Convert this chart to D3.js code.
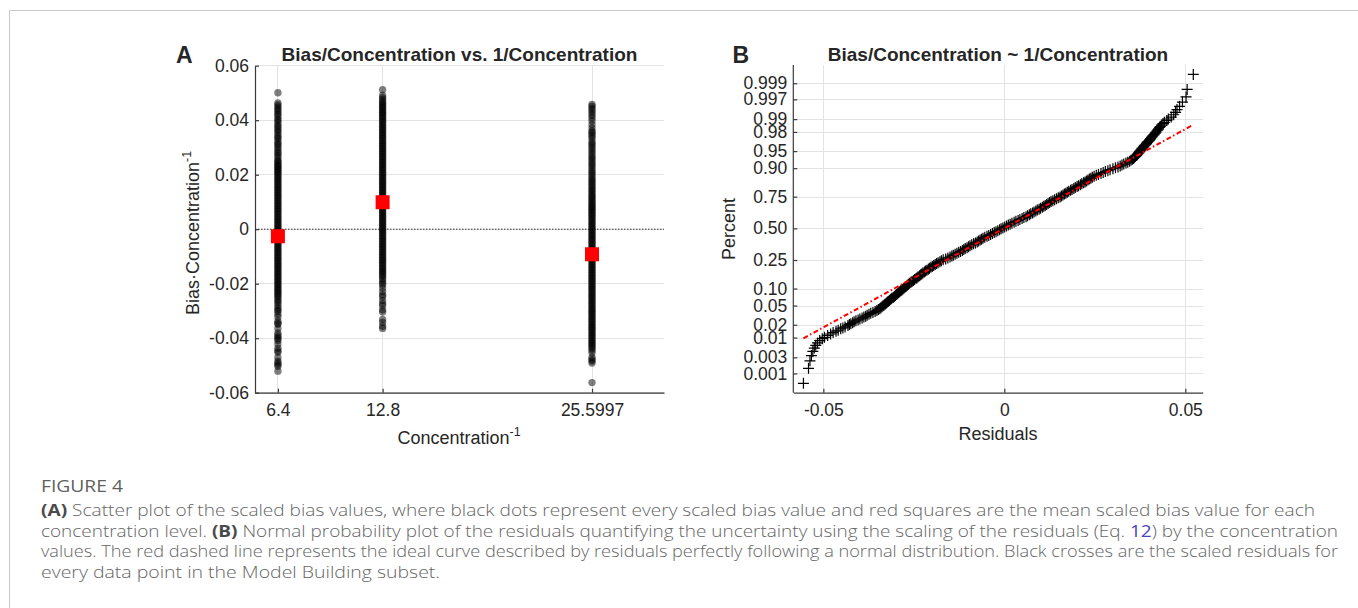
<!DOCTYPE html>
<html>
<head>
<meta charset="utf-8">
<title>Figure 4</title>
<style>
  body { margin: 0; overflow: hidden; background: #fff; }
  svg { display: block; }
  .plot text { font-family: "Liberation Sans", Arial, Helvetica, sans-serif; fill: #262626; }
  .tick text { font-size: 17.5px; }
  .domain, .tick line { stroke: #3a3a3a; stroke-width: 1.2px; }
  .grid { stroke: #e3e3e3; stroke-width: 1px; shape-rendering: crispEdges; }
  .title { font-size: 19px; font-weight: bold; }
  .panel-letter { font-size: 23px; font-weight: bold; }
  .axis-label { font-size: 18px; }
  .caption { font-family: "Open Sans", Lato, sans-serif; font-size: 16px; font-weight: 300; fill: #666; }
</style>
</head>
<body>
<svg id="figure" width="1358" height="608"></svg>
<script src="https://cdn.jsdelivr.net/npm/d3@7/dist/d3.min.js"></script>
<script>
// ---- panel A data: scaled bias (bias / concentration) at each 1/concentration level
var concLevels = [6.4, 12.8, 25.5997];
var concLabels = ['6.4', '12.8', '25.5997'];

var biasAt6_4 = [0.0501, 0.0463, 0.0456, 0.0449, 0.0441, 0.0436, 0.0427, 0.0421, 0.0414, 0.0404, 0.0399, 0.0391,
  0.0381, 0.0376, 0.0367, 0.0361, 0.0353, 0.0344, 0.0337, 0.0331, 0.0322, 0.0314, 0.0309, 0.0301, 0.0293, 0.0284,
  0.0279, 0.0271, 0.0263, 0.0254, 0.0249, 0.0244, 0.0238, 0.0233, 0.0229, 0.0224, 0.0219, 0.0214, 0.0209,
  0.0204, 0.0198, 0.0192, 0.0187, 0.0181, 0.0175, 0.0170, 0.0163, 0.0158, 0.0152, 0.0146, 0.0141, 0.0134, 0.0129,
  0.0123, 0.0117, 0.0112, 0.0105, 0.0100, 0.0094, 0.0088, 0.0083, 0.0076, 0.0071, 0.0065, 0.0059, 0.0054, 0.0047,
  0.0042, 0.0036, 0.0030, 0.0025, 0.0018, 0.0013, 0.0007, 0.0001, -0.0004, -0.0011, -0.0016, -0.0022, -0.0028,
  -0.0033, -0.0040, -0.0045, -0.0051, -0.0057, -0.0062, -0.0069, -0.0074, -0.0080, -0.0086, -0.0091, -0.0098,
  -0.0103, -0.0109, -0.0115, -0.0120, -0.0127, -0.0132, -0.0138, -0.0144, -0.0149, -0.0156, -0.0161, -0.0167,
  -0.0173, -0.0178, -0.0185, -0.0190, -0.0196, -0.0202, -0.0207, -0.0214, -0.0219, -0.0225, -0.0231, -0.0236,
  -0.0243, -0.0248, -0.0256, -0.0263, -0.0270, -0.0279, -0.0288, -0.0296, -0.0301, -0.0312, -0.0322, -0.0338,
  -0.0345, -0.0349, -0.0364, -0.0381, -0.0389, -0.0396, -0.0402, -0.0408, -0.0421, -0.0437, -0.0446, -0.0452,
  -0.0471, -0.0484, -0.0491, -0.0497, -0.0503, -0.0521];

var biasAt12_8 = [0.0512, 0.0491, 0.0483, 0.0476, 0.0468, 0.0463, 0.0457, 0.0451, 0.0446, 0.0440, 0.0434, 0.0429,
  0.0424, 0.0418, 0.0412, 0.0407, 0.0401, 0.0395, 0.0390, 0.0383, 0.0378, 0.0372, 0.0366, 0.0361, 0.0354, 0.0349,
  0.0343, 0.0337, 0.0332, 0.0325, 0.0320, 0.0314, 0.0308, 0.0303, 0.0296, 0.0291, 0.0285, 0.0279, 0.0274, 0.0267,
  0.0262, 0.0256, 0.0250, 0.0245, 0.0238, 0.0233, 0.0227, 0.0221, 0.0216, 0.0209, 0.0204, 0.0198, 0.0192, 0.0187,
  0.0180, 0.0175, 0.0169, 0.0163, 0.0158, 0.0151, 0.0146, 0.0140, 0.0134, 0.0129, 0.0122, 0.0117, 0.0111, 0.0105,
  0.0100, 0.0093, 0.0088, 0.0082, 0.0076, 0.0071, 0.0064, 0.0059, 0.0053, 0.0047, 0.0042, 0.0035, 0.0030, 0.0024,
  0.0018, 0.0013, 0.0006, 0.0001, -0.0005, -0.0011, -0.0016, -0.0023, -0.0028, -0.0034, -0.0040, -0.0045, -0.0052,
  -0.0057, -0.0063, -0.0069, -0.0074, -0.0081, -0.0086, -0.0092, -0.0098, -0.0103, -0.0110, -0.0115, -0.0121,
  -0.0127, -0.0132, -0.0139, -0.0144, -0.0150, -0.0156, -0.0161, -0.0168, -0.0173, -0.0181, -0.0189, -0.0197,
  -0.0204, -0.0216, -0.0229, -0.0241, -0.0248, -0.0262, -0.0273, -0.0281, -0.0296, -0.0304, -0.0331, -0.0342,
  -0.0356, -0.0364];

var biasAt25_6 = [0.0458, 0.0451, 0.0443, 0.0436, 0.0427, 0.0418, 0.0409, 0.0398, 0.0384, 0.0372, 0.0361, 0.0356,
  0.0348, 0.0341, 0.0333, 0.0322, 0.0314, 0.0307, 0.0299, 0.0291, 0.0283, 0.0274, 0.0266, 0.0259, 0.0251, 0.0243,
  0.0236, 0.0228, 0.0219, 0.0212, 0.0205, 0.0197, 0.0190, 0.0183, 0.0176, 0.0170, 0.0163, 0.0157, 0.0150, 0.0144,
  0.0138, 0.0131, 0.0125, 0.0119, 0.0113, 0.0107, 0.0101, 0.0095, 0.0089, 0.0084, 0.0078, 0.0073,
  0.0068, 0.0062, 0.0056, 0.0051, 0.0045, 0.0039, 0.0034, 0.0027, 0.0022, 0.0016, 0.0010, 0.0005, -0.0002,
  -0.0007, -0.0013, -0.0019, -0.0024, -0.0031, -0.0036, -0.0042, -0.0048, -0.0053, -0.0060, -0.0065, -0.0071,
  -0.0077, -0.0082, -0.0089, -0.0094, -0.0100, -0.0106, -0.0111, -0.0118, -0.0123, -0.0129, -0.0135, -0.0140,
  -0.0147, -0.0152, -0.0158, -0.0164, -0.0169, -0.0176, -0.0181, -0.0187, -0.0193, -0.0198, -0.0205, -0.0210,
  -0.0216, -0.0222, -0.0227, -0.0234, -0.0239, -0.0245, -0.0251, -0.0256, -0.0263, -0.0268, -0.0274, -0.0280,
  -0.0285, -0.0292, -0.0297, -0.0303, -0.0309, -0.0314, -0.0321, -0.0326, -0.0332, -0.0338, -0.0343, -0.0350,
  -0.0355, -0.0361, -0.0367, -0.0372, -0.0379, -0.0384, -0.0390, -0.0396, -0.0401, -0.0408, -0.0413, -0.0419,
  -0.0425, -0.0430, -0.0437, -0.0444, -0.0453, -0.0471, -0.0478, -0.0484, -0.0491, -0.0563];

var meanBias = [-0.0026, 0.0099, -0.0092];

var biasTicks = [-0.06, -0.04, -0.02, 0, 0.02, 0.04, 0.06];
var biasTickLabels = ['-0.06', '-0.04', '-0.02', '0', '0.02', '0.04', '0.06'];

// ---- panel B data: sorted scaled residuals and their theoretical normal quantiles
var residuals = [-0.0555, -0.0541, -0.0537, -0.0533, -0.0529, -0.0525, -0.0521, -0.0516, -0.0510, -0.0503,
  -0.0497, -0.0488, -0.0480, -0.0473, -0.0465, -0.0459, -0.0452, -0.0446, -0.0440, -0.0432,
  -0.0428, -0.0424, -0.0419, -0.0415, -0.0410, -0.0404, -0.0399, -0.0393, -0.0388, -0.0383, -0.0379, -0.0374,
  -0.0369, -0.0363, -0.0357, -0.0352, -0.0348, -0.0344, -0.0341, -0.0338, -0.0335, -0.0332, -0.0329, -0.0326,
  -0.0323, -0.0320, -0.0317, -0.0314, -0.0311, -0.0307, -0.0304, -0.0301, -0.0298, -0.0295, -0.0292, -0.0289,
  -0.0286, -0.0283, -0.0280, -0.0277, -0.0274, -0.0271, -0.0268, -0.0265, -0.0262, -0.0258, -0.0255, -0.0251,
  -0.0248, -0.0244, -0.0241, -0.0238, -0.0234, -0.0231, -0.0228, -0.0225, -0.0221, -0.0218, -0.0214, -0.0210,
  -0.0207, -0.0203, -0.0199, -0.0195, -0.0191, -0.0187, -0.0183, -0.0178, -0.0174, -0.0169, -0.0162, -0.0156,
  -0.0150, -0.0145, -0.0141, -0.0136, -0.0131, -0.0126, -0.0121, -0.0116, -0.0112, -0.0108, -0.0103, -0.0099,
  -0.0095, -0.0090, -0.0085, -0.0080, -0.0075, -0.0071, -0.0067, -0.0063, -0.0059, -0.0054, -0.0048, -0.0043,
  -0.0038, -0.0033, -0.0028, -0.0023, -0.0018, -0.0013, -0.0009, -0.0004, 0.0001, 0.0006, 0.0011, 0.0016,
  0.0021, 0.0027, 0.0032, 0.0038, 0.0043, 0.0049, 0.0054, 0.0060, 0.0064, 0.0069, 0.0073, 0.0078, 0.0082, 0.0087,
  0.0091, 0.0096, 0.0100, 0.0105, 0.0109, 0.0113, 0.0117, 0.0121, 0.0125, 0.0129, 0.0134, 0.0139, 0.0144, 0.0149,
  0.0154, 0.0158, 0.0162, 0.0166, 0.0170, 0.0174, 0.0178, 0.0183, 0.0187, 0.0192, 0.0196, 0.0201, 0.0205, 0.0210,
  0.0214, 0.0219, 0.0223, 0.0227, 0.0231, 0.0235, 0.0239, 0.0243, 0.0248, 0.0254, 0.0260, 0.0267, 0.0273, 0.0279,
  0.0286, 0.0292, 0.0300, 0.0307, 0.0314, 0.0320, 0.0325, 0.0330, 0.0336, 0.0341, 0.0346, 0.0350, 0.0354, 0.0357,
  0.0359, 0.0362, 0.0365, 0.0367, 0.0369, 0.0371, 0.0373, 0.0375, 0.0377, 0.0379, 0.0381, 0.0384, 0.0386, 0.0388,
  0.0391, 0.0393, 0.0395, 0.0397, 0.0400, 0.0402, 0.0404, 0.0406, 0.0408, 0.0410, 0.0413, 0.0415, 0.0417,
  0.0419, 0.0422, 0.0424, 0.0426, 0.0429, 0.0431, 0.0434, 0.0438, 0.0442, 0.0449, 0.0453, 0.0461, 0.0468, 0.0473,
  0.0477, 0.0484, 0.0492, 0.0502, 0.0505, 0.0522];

var normalQuantile = [-3.29, -2.97, -2.81, -2.70, -2.61, -2.54, -2.48, -2.43, -2.38, -2.34,
  -2.31, -2.27, -2.24, -2.21, -2.18, -2.16, -2.13, -2.11, -2.09, -2.06,
  -2.04, -2.02, -2.00, -1.98, -1.96, -1.94, -1.92, -1.90, -1.88, -1.86, -1.84, -1.82,
  -1.80, -1.78, -1.76, -1.74, -1.72, -1.70, -1.68, -1.66, -1.64, -1.62, -1.60, -1.58,
  -1.56, -1.54, -1.52, -1.50, -1.48, -1.46, -1.44, -1.42, -1.40, -1.38, -1.36, -1.34,
  -1.32, -1.30, -1.28, -1.26, -1.24, -1.22, -1.20, -1.18, -1.16, -1.14, -1.12, -1.10,
  -1.08, -1.06, -1.04, -1.02, -1.00, -0.98, -0.96, -0.94, -0.92, -0.90, -0.88, -0.86,
  -0.84, -0.82, -0.80, -0.78, -0.76, -0.74, -0.72, -0.70, -0.68, -0.66, -0.64, -0.62,
  -0.60, -0.58, -0.56, -0.54, -0.52, -0.50, -0.48, -0.46, -0.44, -0.42, -0.40, -0.38,
  -0.36, -0.34, -0.32, -0.30, -0.28, -0.26, -0.24, -0.22, -0.20, -0.18, -0.16, -0.14,
  -0.12, -0.10, -0.08, -0.06, -0.04, -0.02, 0.00, 0.02, 0.04, 0.06, 0.08, 0.10,
  0.12, 0.14, 0.16, 0.18, 0.20, 0.22, 0.24, 0.26, 0.28, 0.30, 0.32, 0.34, 0.36, 0.38,
  0.40, 0.42, 0.44, 0.46, 0.48, 0.50, 0.52, 0.54, 0.56, 0.58, 0.60, 0.62, 0.64, 0.66,
  0.68, 0.70, 0.72, 0.74, 0.76, 0.78, 0.80, 0.82, 0.84, 0.86, 0.88, 0.90, 0.92, 0.94,
  0.96, 0.98, 1.00, 1.02, 1.04, 1.06, 1.08, 1.10, 1.12, 1.14, 1.16, 1.18, 1.20, 1.22,
  1.24, 1.26, 1.28, 1.30, 1.32, 1.34, 1.36, 1.38, 1.40, 1.42, 1.44, 1.46, 1.48, 1.50,
  1.52, 1.54, 1.56, 1.58, 1.60, 1.62, 1.64, 1.66, 1.68, 1.70, 1.72, 1.74, 1.76, 1.78,
  1.80, 1.82, 1.84, 1.86, 1.88, 1.90, 1.92, 1.94, 1.96, 1.98, 2.00, 2.02, 2.04,
  2.06, 2.09, 2.11, 2.13, 2.16, 2.18, 2.21, 2.24, 2.27, 2.31, 2.34, 2.38, 2.43, 2.48,
  2.54, 2.61, 2.70, 2.81, 2.97, 3.29];

// fitted normal (red reference line)
var fitMu = -0.0003, fitSigma = 0.02368;

var residualTicks = [-0.05, 0, 0.05];
var residualTickLabels = ['-0.05', '0', '0.05'];
var probTicks = [0.001, 0.003, 0.01, 0.02, 0.05, 0.10, 0.25, 0.50, 0.75, 0.90, 0.95, 0.98, 0.99, 0.997, 0.999];
var probTickLabels = ['0.001', '0.003', '0.01', '0.02', '0.05', '0.10', '0.25', '0.50', '0.75', '0.90', '0.95',
  '0.98', '0.99', '0.997', '0.999'];

// inverse normal cdf (Acklam), used for the probability axis
function probit(p) {
  var a = [-3.969683028665376e+01, 2.209460984245205e+02, -2.759285104469687e+02, 1.383577518672690e+02, -3.066479806614716e+01, 2.506628277459239e+00],
    b = [-5.447609879822406e+01, 1.615858368580409e+02, -1.556989798598866e+02, 6.680131188771972e+01, -1.328068155288572e+01],
    c = [-7.784894002430293e-03, -3.223964580411365e-01, -2.400758277161838e+00, -2.549732539343734e+00, 4.374664141464968e+00, 2.938163982698783e+00],
    d = [7.784695709041462e-03, 3.224671290700398e-01, 2.445134137142996e+00, 3.754408661907416e+00],
    q, r;
  if (p < 0.02425 || p > 0.97575) {
    q = Math.sqrt(-2 * Math.log(p < 0.5 ? p : 1 - p));
    var v = (((((c[0]*q+c[1])*q+c[2])*q+c[3])*q+c[4])*q+c[5]) / ((((d[0]*q+d[1])*q+d[2])*q+d[3])*q+1);
    return p < 0.5 ? v : -v;
  }
  q = p - 0.5; r = q * q;
  return (((((a[0]*r+a[1])*r+a[2])*r+a[3])*r+a[4])*r+a[5])*q / (((((b[0]*r+b[1])*r+b[2])*r+b[3])*r+b[4])*r+1);
}

var svg = d3.select('#figure');

// page frame
svg.append('path')
  .attr('d', 'M9.5,608V10.5H1358')
  .attr('fill', 'none')
  .attr('stroke', '#c9c9c9');

var plot = svg.append('g').attr('class', 'plot');

/*
  Panel A
*/
var xA = d3.scaleLinear().domain([5, 30]).range([255, 664]);
var yA = d3.scaleLinear().domain([-0.06, 0.06]).range([392.7, 65.7]);
var gA = plot.append('g');

gA.selectAll('.grid-h').data(biasTicks).enter().append('line')
  .attr('class', 'grid')
  .attr('x1', xA.range()[0]).attr('x2', xA.range()[1])
  .attr('y1', function (d) { return yA(d); }).attr('y2', function (d) { return yA(d); });
gA.selectAll('.grid-v').data(concLevels).enter().append('line')
  .attr('class', 'grid')
  .attr('x1', function (d) { return xA(d); }).attr('x2', function (d) { return xA(d); })
  .attr('y1', yA.range()[0]).attr('y2', yA.range()[1]);

// zero line
gA.append('line')
  .attr('x1', xA.range()[0]).attr('x2', xA.range()[1])
  .attr('y1', yA(0)).attr('y2', yA(0))
  .attr('stroke', '#333').attr('stroke-width', 1).attr('stroke-dasharray', '1.5,1.5');

var columns = [biasAt6_4, biasAt12_8, biasAt25_6];
columns.forEach(function (vals, i) {
  gA.append('g').selectAll('circle').data(vals).enter().append('circle')
    .attr('cx', xA(concLevels[i]))
    .attr('cy', function (d) { return yA(d); })
    .attr('r', 3.7)
    .attr('fill', '#000')
    .attr('fill-opacity', 0.5);
});

gA.selectAll('.mean').data(meanBias).enter().append('rect')
  .attr('x', function (d, i) { return xA(concLevels[i]) - 7; })
  .attr('y', function (d) { return yA(d) - 7; })
  .attr('width', 14).attr('height', 14)
  .attr('fill', '#ff0000');

gA.append('g')
  .attr('transform', 'translate(0,' + yA.range()[0] + ')')
  .call(d3.axisBottom(xA).tickValues(concLevels).tickFormat(function (d, i) { return concLabels[i]; })
    .tickSizeInner(-4).tickSizeOuter(0).tickPadding(11));
gA.append('g')
  .attr('transform', 'translate(' + xA.range()[0] + ',0)')
  .call(d3.axisLeft(yA).tickValues(biasTicks).tickFormat(function (d, i) { return biasTickLabels[i]; })
    .tickSizeInner(-4).tickSizeOuter(0).tickPadding(6));

gA.append('text').attr('class', 'title').attr('x', 459.5).attr('y', 60.5)
  .attr('text-anchor', 'middle').text('Bias/Concentration vs. 1/Concentration');
gA.append('text').attr('class', 'panel-letter').attr('x', 176).attr('y', 63.3).text('A');

var xLabA = gA.append('text').attr('class', 'axis-label').attr('x', 459).attr('y', 444).attr('text-anchor', 'middle');
xLabA.append('tspan').text('Concentration');
xLabA.append('tspan').attr('dy', -8).attr('font-size', '12.5px').text('-1');

var yLabA = gA.append('text').attr('class', 'axis-label')
  .attr('transform', 'translate(199,233) rotate(-90)').attr('text-anchor', 'middle');
yLabA.append('tspan').text('Bias\u00b7Concentration');
yLabA.append('tspan').attr('dy', -8).attr('font-size', '12.5px').text('-1');

/*
  Panel B
*/
var xB = d3.scaleLinear().domain([-0.0583, 0.0548]).range([793.3, 1202.7]);
var yB = d3.scaleLinear().domain([-3.49, 3.49]).range([392.7, 65]);
var gB = plot.append('g');

gB.selectAll('.grid-h').data(probTicks).enter().append('line')
  .attr('class', 'grid')
  .attr('x1', xB.range()[0]).attr('x2', xB.range()[1])
  .attr('y1', function (d) { return yB(probit(d)); }).attr('y2', function (d) { return yB(probit(d)); });
gB.selectAll('.grid-v').data(residualTicks).enter().append('line')
  .attr('class', 'grid')
  .attr('x1', function (d) { return xB(d); }).attr('x2', function (d) { return xB(d); })
  .attr('y1', yB.range()[0]).attr('y2', yB.range()[1]);

gB.append('g').selectAll('path').data(residuals).enter().append('path')
  .attr('transform', function (d, i) { return 'translate(' + xB(d) + ',' + yB(normalQuantile[i]) + ')'; })
  .attr('d', 'M-5.5,0H5.5M0,-5.5V5.5')
  .attr('stroke', '#000').attr('stroke-width', 1.2).attr('fill', 'none');

var rExt = d3.extent(residuals);
gB.append('line')
  .attr('x1', xB(rExt[0])).attr('y1', yB((rExt[0] - fitMu) / fitSigma))
  .attr('x2', xB(rExt[1])).attr('y2', yB((rExt[1] - fitMu) / fitSigma))
  .attr('stroke', '#ff0000').attr('stroke-width', 2).attr('stroke-dasharray', '5,2.5,1.5,2.5');

gB.append('g')
  .attr('transform', 'translate(0,' + yB.range()[0] + ')')
  .call(d3.axisBottom(xB).tickValues(residualTicks).tickFormat(function (d, i) { return residualTickLabels[i]; })
    .tickSizeInner(-4).tickSizeOuter(0).tickPadding(11));

var yAxisB = gB.append('g').attr('transform', 'translate(' + xB.range()[0] + ',0)');
yAxisB.append('line')
  .attr('class', 'domain')
  .attr('y1', yB.range()[0]).attr('y2', yB.range()[1]);
var pt = yAxisB.selectAll('.tick').data(probTicks).enter().append('g')
  .attr('class', 'tick')
  .attr('transform', function (d) { return 'translate(0,' + yB(probit(d)) + ')'; });
pt.append('line').attr('x2', 4);
pt.append('text').attr('x', -6).attr('dy', '0.32em').attr('text-anchor', 'end')
  .text(function (d, i) { return probTickLabels[i]; });

gB.append('text').attr('class', 'title').attr('x', 998).attr('y', 60.7)
  .attr('text-anchor', 'middle').text('Bias/Concentration ~ 1/Concentration');
gB.append('text').attr('class', 'panel-letter').attr('x', 732.5).attr('y', 62.7).text('B');
gB.append('text').attr('class', 'axis-label').attr('x', 998).attr('y', 440)
  .attr('text-anchor', 'middle').text('Residuals');
gB.append('text').attr('class', 'axis-label')
  .attr('transform', 'translate(735,229) rotate(-90)').attr('text-anchor', 'middle').text('Percent');

/*
  Caption
*/
var cap = svg.append('g').attr('class', 'caption');
cap.append('text').attr('x', 41).attr('y', 492).attr('font-size', '17px').attr('font-weight', 400)
  .attr('fill', '#5f5f5f')
  .attr('textLength', 82).attr('lengthAdjust', 'spacingAndGlyphs').text('FIGURE 4');

var lines = [
  [['b', '(A)'], ['', ' Scatter plot of the scaled bias values, where black dots represent every scaled bias value and red squares are the mean scaled bias value for each']],
  [['', 'concentration level. '], ['b', '(B)'], ['', ' Normal probability plot of the residuals quantifying the uncertainty using the scaling of the residuals (Eq. '], ['l', '12'], ['', ') by the concentration']],
  [['', 'values. The red dashed line represents the ideal curve described by residuals perfectly following a normal distribution. Black crosses are the scaled residuals for']],
  [['', 'every data point in the Model Building subset.']]
];
var lineWidths = [1274, 1297, 1297, 399];
lines.forEach(function (parts, i) {
  var t = cap.append('text').attr('x', 41).attr('y', 516 + i * 20.6)
    .attr('textLength', lineWidths[i]).attr('lengthAdjust', 'spacingAndGlyphs');
  parts.forEach(function (p) {
    var s = t.append('tspan').text(p[1]);
    if (p[0] === 'b') s.attr('font-weight', 'bold').attr('fill', '#4a4a4a');
    if (p[0] === 'l') s.attr('fill', '#4b44c0').attr('font-weight', 400);
  });
});
</script>
</body>
</html>
